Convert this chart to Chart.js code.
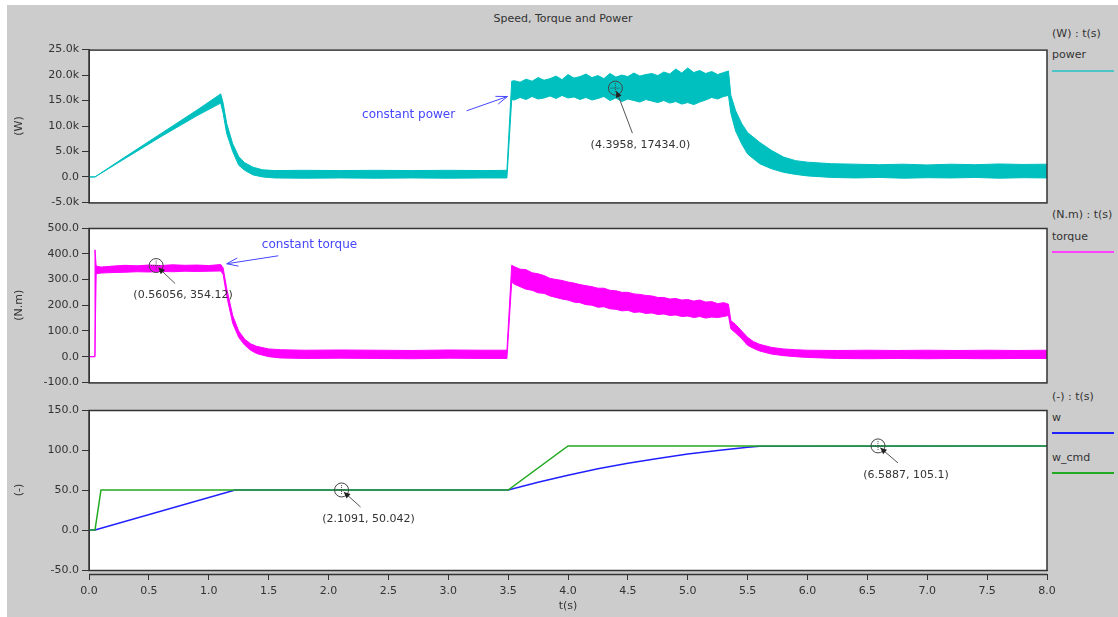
<!DOCTYPE html>
<html>
<head>
<meta charset="utf-8">
<script src="https://cdn.jsdelivr.net/npm/chart.js@4.4.1/dist/chart.umd.min.js"></script>
<style>
  body { margin: 0; width: 1118px; height: 617px; background: #fff; position: relative; overflow: hidden;
         font-family: "DejaVu Sans", sans-serif; }
  #bg { position: absolute; left: 7px; top: 5px; right: 0; bottom: 0; background: #cccccc; }
  canvas { position: absolute; left: 0; }
  .t { position: absolute; font-size: 11px; line-height: 11px; color: #333; white-space: nowrap; }
  .ln { position: absolute; left: 1052px; width: 62px; height: 2px; }
</style>
</head>
<body>
<div id="bg"></div>
<div class="t" style="left:463px;width:200px;text-align:center;top:13px">Speed, Torque and Power</div>

<div class="t" style="left:1052px;top:28px">(W) : t(s)</div>
<div class="t" style="left:1052px;top:49px">power</div>
<div class="ln" style="top:70px;background:#4cc6c6"></div>

<div class="t" style="left:1052px;top:209px">(N.m) : t(s)</div>
<div class="t" style="left:1052px;top:231px">torque</div>
<div class="ln" style="top:251px;background:#ff40ff"></div>

<div class="t" style="left:1052px;top:391px">(-) : t(s)</div>
<div class="t" style="left:1052px;top:412px">w</div>
<div class="ln" style="top:432px;background:#2020ff"></div>
<div class="t" style="left:1052px;top:452px">w_cmd</div>
<div class="ln" style="top:472px;background:#22aa22"></div>

<canvas id="cPower" width="1118" height="172" style="top:40px"></canvas>
<canvas id="cTorque" width="1118" height="180" style="top:212px"></canvas>
<canvas id="cSpeed" width="1118" height="225" style="top:392px"></canvas>

<script>
// ---- data ----
// power band (upper / lower envelope of the ripple), W
const tPower = [0, 0.05, 0.3, 0.6, 0.9, 1.1, 1.12, 1.15, 1.2, 1.25, 1.3, 1.37, 1.45, 1.55, 1.8, 2.1, 2.4, 2.7, 3.0, 3.3, 3.49, 3.53,
  3.55, 3.6, 3.65, 3.7, 3.75, 3.8, 3.85, 3.9, 3.95, 4.0, 4.05, 4.1, 4.15, 4.2, 4.25, 4.3, 4.35, 4.4, 4.45, 4.5,
  4.55, 4.6, 4.65, 4.7, 4.75, 4.8, 4.85, 4.9, 4.95, 5.0, 5.05, 5.1, 5.15, 5.2, 5.25, 5.3,
  5.34, 5.36, 5.4, 5.45, 5.5, 5.6, 5.7, 5.8, 5.9, 6.0, 6.2, 6.4, 6.6, 6.8, 7.0, 7.2, 7.4, 7.6, 7.8, 8.0];
const powerHi = [0, 0, 3900, 8500, 13100, 16300, 14500, 10500, 6500, 4000, 2800, 1900, 1400, 1250, 1300, 1250, 1300, 1250, 1300, 1250, 1300, 18800,
  18900, 18600, 19200, 18800, 19500, 19000, 19300, 19800, 19100, 20100, 19400, 19700, 20200, 19500, 19900, 19300, 20300, 19600, 20000, 19700,
  20400, 19800, 20100, 20300, 19900, 20600, 20200, 21200, 20400, 21400, 20500, 20900, 20300, 20700, 20100, 20500,
  20800, 16000, 13000, 10500, 8700, 6800, 5200, 3900, 3200, 2900, 2600, 2500, 2400, 2500, 2350, 2500, 2400, 2550, 2450, 2500];
const powerLo = [0, 0, 3600, 7900, 12000, 14500, 12500, 8500, 5000, 2300, 1300, 400, 0, -200, -250, -200, -250, -200, -250, -200, -200, 15200,
  15100, 15600, 15200, 15800, 15300, 15500, 15900, 15400, 16000, 15500, 15700, 15200, 15600, 15100, 15400, 15800, 15000, 15500, 14800, 15300,
  15000, 14700, 15200, 14900, 14600, 15000, 14500, 14800, 14300, 14600, 14200, 14700, 15100, 15600, 15300, 15800,
  16000, 12500, 9000, 6500, 4500, 2600, 1600, 900, 500, 200, -100, -200, -100, -250, -150, -200, -100, -250, -150, -200];

// torque band, N.m
const tTorque = [0, 0.049, 0.05, 0.06, 0.1, 0.2, 0.3, 0.4, 0.5, 0.6, 0.7, 0.8, 0.9, 1.0, 1.1, 1.12, 1.15, 1.2, 1.25, 1.3, 1.35, 1.4, 1.5, 1.6,
  1.8, 2.1, 2.4, 2.7, 3.0, 3.3, 3.49, 3.53,
  3.55, 3.6, 3.65, 3.7, 3.75, 3.8, 3.85, 3.9, 3.95, 4.0, 4.05, 4.1, 4.15, 4.2, 4.25, 4.3, 4.35, 4.4, 4.45, 4.5,
  4.55, 4.6, 4.65, 4.7, 4.75, 4.8, 4.85, 4.9, 4.95, 5.0, 5.05, 5.1, 5.15, 5.2, 5.25, 5.3,
  5.34, 5.36, 5.4, 5.45, 5.5, 5.55, 5.6, 5.7, 5.8, 5.9, 6.0, 6.25, 6.5, 6.75, 7.0, 7.25, 7.5, 7.75, 8.0];
const torqueHi = [0, 0, 415, 352, 348, 352, 355, 353, 356, 354, 357, 355, 356, 354, 358, 345, 265, 160, 100, 68, 50, 40, 30, 27,
  25, 26, 25, 24, 26, 25, 25, 355,
  350, 340, 338, 326, 322, 315, 304, 300, 296, 290, 286, 280, 276, 272, 266, 266, 258, 256, 250, 250,
  244, 242, 238, 236, 230, 230, 224, 226, 220, 222, 216, 220, 212, 214, 206, 210,
  204, 140, 125, 100, 75, 58, 48, 36, 30, 27, 25, 24, 25, 24, 25, 24, 25, 24, 25];
const torqueLo = [0, 0, 0, 322, 325, 327, 328, 330, 329, 331, 330, 332, 331, 332, 333, 320, 235, 130, 75, 45, 25, 12, 0, -5,
  -7, -6, -7, -8, -6, -7, -7, 290,
  282, 272, 262, 258, 248, 246, 236, 230, 224, 220, 212, 210, 202, 200, 192, 194, 186, 184, 178, 180,
  172, 174, 168, 170, 164, 166, 160, 162, 156, 158, 152, 156, 150, 154, 152, 156,
  160, 108, 92, 70, 44, 32, 22, 10, 4, 0, -3, -7, -8, -7, -8, -7, -8, -7, -7];

// speed
const tCmd = [0, 0.05, 0.1, 3.5, 4.0, 8.0];
const wCmd = [0, 0, 50, 50, 105, 105];
const tW = [0, 0.05, 1.22, 3.5, 3.75, 4.0, 4.25, 4.5, 4.75, 5.0, 5.25, 5.5, 5.6, 8.0];
const wSpeed = [0, 0, 50, 50, 59.8, 68.5, 76.5, 83.3, 89.5, 95, 99.5, 103.3, 104.6, 105];

// cursor read-outs
const markT = [4.3958, 0.56056, 2.1091, 6.5887];
const markV = [17434.0, 354.12, 50.042, 105.1];
const markText = ['(4.3958, 17434.0)', '(0.56056, 354.12)', '(2.1091, 50.042)', '(6.5887, 105.1)'];

const xTicks = [0, 0.5, 1, 1.5, 2, 2.5, 3, 3.5, 4, 4.5, 5, 5.5, 6, 6.5, 7, 7.5, 8];

// ---- styling ----
const FONT = { family: '"DejaVu Sans", sans-serif', size: 11 };
const INK = '#333';
const TEAL = '#00bfbf', MAGENTA = '#ff00ff', BLUE = '#2020ff', GREEN = '#22aa22';

const pts = (t, v) => t.map((x, i) => ({ x, y: v[i] }));

const boxPlugin = {
  id: 'box',
  beforeDraw(chart) {
    const { ctx, chartArea: a } = chart;
    ctx.save();
    ctx.fillStyle = '#fff';
    ctx.fillRect(a.left, a.top, a.right - a.left, a.bottom - a.top);
    ctx.restore();
  },
  afterDraw(chart) {
    const { ctx, chartArea: a } = chart;
    ctx.save();
    if (chart.canvas.id === 'cSpeed') {
      // separate time axis line a few px below the plot box
      ctx.fillStyle = '#cccccc';
      ctx.fillRect(a.left - 2, a.bottom + 1, a.right - a.left + 4, 3);
      ctx.strokeStyle = INK; ctx.lineWidth = 1.5;
      ctx.beginPath(); ctx.moveTo(a.left, a.bottom + 4.5); ctx.lineTo(a.right, a.bottom + 4.5); ctx.stroke();
    }
    ctx.strokeStyle = INK; ctx.lineWidth = 1.5;
    ctx.strokeRect(a.left, a.top + 0.5, a.right - a.left, a.bottom - a.top);
    ctx.restore();
  }
};

function arrow(ctx, x0, y0, x1, y1, filled) {
  const ang = Math.atan2(y1 - y0, x1 - x0);
  ctx.beginPath(); ctx.moveTo(x0, y0); ctx.lineTo(x1, y1); ctx.stroke();
  const L = filled ? 7 : 12, W = filled ? 0.45 : 0.35;
  ctx.beginPath();
  ctx.moveTo(x1 - L * Math.cos(ang - W), y1 - L * Math.sin(ang - W));
  ctx.lineTo(x1, y1);
  ctx.lineTo(x1 - L * Math.cos(ang + W), y1 - L * Math.sin(ang + W));
  if (filled) { ctx.closePath(); ctx.fill(); } else ctx.stroke();
}

// idx: which read-outs belong to this panel; offs: label offset in px
function markPlugin(idx, offs, notes) {
  return {
    id: 'marks',
    afterDatasetsDraw(chart) {
      const { ctx, scales: { x, y } } = chart;
      ctx.save();
      ctx.font = '11px "DejaVu Sans", sans-serif';
      idx.forEach((k, j) => {
        const px = x.getPixelForValue(markT[k]), py = y.getPixelForValue(markV[k]);
        ctx.strokeStyle = '#444'; ctx.lineWidth = 1;
        ctx.beginPath(); ctx.arc(px, py, 7, 0, Math.PI * 2); ctx.stroke();
        ctx.setLineDash([1, 1]);
        ctx.beginPath(); ctx.moveTo(px - 5, py); ctx.lineTo(px + 5, py); ctx.moveTo(px, py - 5); ctx.lineTo(px, py + 5); ctx.stroke();
        ctx.setLineDash([]);
        const lx = px + offs[j][0], ly = py + offs[j][1];
        const sx = lx - 8, sy = ly - 12;
        const d = Math.hypot(sx - px, sy - py);
        ctx.fillStyle = '#222'; ctx.strokeStyle = '#555';
        arrow(ctx, sx, sy, px + (sx - px) / d * 3, py + (sy - py) / d * 3, true);
        ctx.fillStyle = INK; ctx.textAlign = 'center'; ctx.textBaseline = 'middle';
        ctx.fillText(markText[k], lx, ly);
      });
      notes.forEach(n => {
        ctx.font = '12px "DejaVu Sans", sans-serif';
        ctx.fillStyle = '#4646ff'; ctx.strokeStyle = '#4646ff'; ctx.lineWidth = 1;
        ctx.textAlign = 'center'; ctx.textBaseline = 'middle';
        ctx.fillText(n.text, x.getPixelForValue(n.tx), y.getPixelForValue(n.ty));
        arrow(ctx, x.getPixelForValue(n.x0), y.getPixelForValue(n.y0), x.getPixelForValue(n.x1), y.getPixelForValue(n.y1), false);
      });
      ctx.restore();
    }
  };
}

function yAxis(min, max, step, title, fmt) {
  return {
    min, max,
    afterFit: s => { s.width = 81; },
    ticks: { stepSize: step, color: INK, font: FONT, padding: 3, callback: fmt },
    grid: { drawOnChartArea: false, drawTicks: true, tickLength: 7, color: INK },
    border: { color: INK, width: 1 },
    title: { display: true, text: title, color: INK, font: FONT, padding: { top: 5, bottom: 0 } }
  };
}

function xAxis(show) {
  if (!show) return { type: 'linear', min: 0, max: 8, display: false };
  return {
    type: 'linear', min: 0, max: 8,
    afterFit: s => { s.height = 47; },
    afterBuildTicks: s => { s.ticks = xTicks.map(v => ({ value: v })); },
    ticks: { color: INK, font: FONT, padding: 5, autoSkip: false, maxRotation: 0, callback: v => v.toFixed(1) },
    grid: { drawOnChartArea: false, drawTicks: true, tickLength: 10, color: INK },
    border: { color: INK, width: 1 },
    title: { display: true, text: 't(s)', color: INK, font: FONT, padding: { top: 0, bottom: 4 } }
  };
}

function band(t, hi, lo, color) {
  return [
    { data: pts(t, hi), borderColor: color, backgroundColor: color, borderWidth: 1, pointRadius: 0, fill: '+1' },
    { data: pts(t, lo), borderColor: color, borderWidth: 1, pointRadius: 0, fill: false }
  ];
}

function base(pad, scales) {
  return {
    responsive: false, animation: false, events: [],
    layout: { padding: pad },
    plugins: { legend: { display: false }, tooltip: { enabled: false } },
    elements: { line: { tension: 0 } },
    scales
  };
}

new Chart(document.getElementById('cPower'), {
  type: 'line',
  data: { datasets: band(tPower, powerHi, powerLo, TEAL) },
  options: base({ left: 8, right: 71, top: 7, bottom: 5 }, {
    x: xAxis(false),
    y: yAxis(-5000, 25000, 5000, '(W)', v => v === 0 ? '0.0' : (v / 1000).toFixed(1) + 'k')
  }),
  plugins: [boxPlugin, markPlugin([0], [[25, 57]], [
    { text: 'constant power', tx: 2.669, ty: 12230, x0: 3.153, y0: 12980, x1: 3.494, y1: 15790 }
  ])]
});

new Chart(document.getElementById('cTorque'), {
  type: 'line',
  data: { datasets: band(tTorque, torqueHi, torqueLo, MAGENTA) },
  options: base({ left: 8, right: 71, top: 16, bottom: 4 }, {
    x: xAxis(false),
    y: yAxis(-100, 500, 100, '(N.m)', v => v.toFixed(1))
  }),
  plugins: [boxPlugin, markPlugin([1], [[27, 30]], [
    { text: 'constant torque', tx: 1.841, ty: 433, x0: 1.581, y0: 392, x1: 1.15, y1: 361 }
  ])]
});

new Chart(document.getElementById('cSpeed'), {
  type: 'line',
  data: {
    datasets: [
      { label: 'w_cmd', data: pts(tCmd, wCmd), borderColor: GREEN, borderWidth: 1.5, pointRadius: 0, order: 0 },
      { label: 'w', data: pts(tW, wSpeed), borderColor: BLUE, borderWidth: 1.5, pointRadius: 0, order: 1 }
    ]
  },
  options: base({ left: 8, right: 71, top: 18, bottom: 0 }, {
    x: xAxis(true),
    y: yAxis(-50, 150, 50, '(-)', v => v.toFixed(1))
  }),
  plugins: [boxPlugin, markPlugin([2, 3], [[27, 29], [28, 29]], [])]
});
</script>
</body>
</html>
